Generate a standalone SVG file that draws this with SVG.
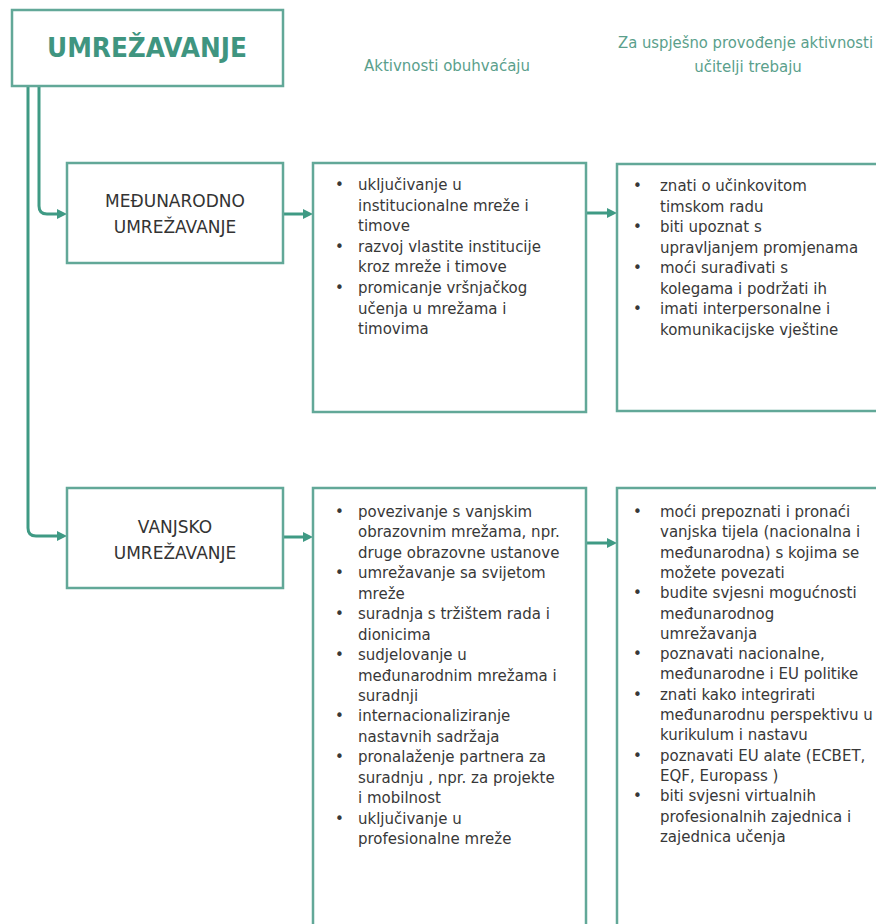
<svg xmlns="http://www.w3.org/2000/svg" width="876" height="924" viewBox="0 0 876 924">
<style>
.box{fill:#ffffff;stroke:#62a898;stroke-width:2.5}
.conn{fill:none;stroke:#3f9a84;stroke-width:3}
.title{font-family:"DejaVu Sans",sans-serif;font-weight:bold;font-size:27px;fill:#3f9580}
.hdr{font-family:"DejaVu Sans",sans-serif;font-size:15px;fill:#5b9f8c;text-anchor:middle}
.lbl{font-family:"DejaVu Sans",sans-serif;font-size:17px;fill:#333333;text-anchor:middle}
.txt{font-family:"DejaVu Sans",sans-serif;font-size:15px;fill:#383838}
</style>
<defs>
<marker id="ah" viewBox="0 0 10 10" refX="2" refY="5" markerWidth="10" markerHeight="10" markerUnits="userSpaceOnUse" orient="auto">
<path d="M0,0 L10,5 L0,10 z" fill="#3f9a84"/>
</marker>
</defs>
<rect width="876" height="924" fill="#ffffff"/>

<g id="connectors">
<path class="conn" d="M39,86 V206 Q39,214 47,214 H59" marker-end="url(#ah)"/>
<path class="conn" d="M28,86 V528 Q28,536 36,536 H59" marker-end="url(#ah)"/>
<path class="conn" d="M283,214 H305" marker-end="url(#ah)"/>
<path class="conn" d="M586,213 H609" marker-end="url(#ah)"/>
<path class="conn" d="M283,537 H305" marker-end="url(#ah)"/>
<path class="conn" d="M586,543 H609" marker-end="url(#ah)"/>
</g>

<g id="umrezavanje">
<rect class="box" x="12" y="10" width="271" height="76"/>
<text class="title" x="147" y="57" text-anchor="middle" textLength="200" lengthAdjust="spacingAndGlyphs">UMREŽAVANJE</text>
</g>

<g id="header-aktivnosti">
<text class="hdr" x="447" y="71">Aktivnosti obuhvaćaju</text>
</g>

<g id="header-ucitelji">
<text class="hdr" x="618" y="48" style="text-anchor:start" textLength="255" lengthAdjust="spacingAndGlyphs">Za uspješno provođenje aktivnosti</text>
<text class="hdr" x="748" y="72">učitelji trebaju</text>
</g>

<g id="medunarodno">
<rect class="box" x="67" y="163" width="216" height="100"/>
<text class="lbl" x="175" y="207">MEĐUNARODNO</text>
<text class="lbl" x="175" y="233">UMREŽAVANJE</text>
</g>

<g id="medunarodno-aktivnosti">
<rect class="box" x="313" y="163" width="273" height="249"/>
<text class="txt">
<tspan x="335" y="190">•</tspan><tspan x="358" y="190">uključivanje u</tspan>
<tspan x="358" y="210.6">institucionalne mreže i</tspan>
<tspan x="358" y="231.2">timove</tspan>
<tspan x="335" y="251.8">•</tspan><tspan x="358" y="251.8">razvoj vlastite institucije</tspan>
<tspan x="358" y="272.4">kroz mreže i timove</tspan>
<tspan x="335" y="293">•</tspan><tspan x="358" y="293">promicanje vršnjačkog</tspan>
<tspan x="358" y="313.6">učenja u mrežama i</tspan>
<tspan x="358" y="334.2">timovima</tspan>
</text>
</g>

<g id="medunarodno-trebaju">
<rect class="box" x="617" y="164" width="290" height="247"/>
<text class="txt">
<tspan x="633" y="191">•</tspan><tspan x="660" y="191">znati o učinkovitom</tspan>
<tspan x="660" y="211.5">timskom radu</tspan>
<tspan x="633" y="232">•</tspan><tspan x="660" y="232">biti upoznat s</tspan>
<tspan x="660" y="252.5">upravljanjem promjenama</tspan>
<tspan x="633" y="273">•</tspan><tspan x="660" y="273">moći surađivati s</tspan>
<tspan x="660" y="293.5">kolegama i podržati ih</tspan>
<tspan x="633" y="314">•</tspan><tspan x="660" y="314">imati interpersonalne i</tspan>
<tspan x="660" y="334.5">komunikacijske vještine</tspan>
</text>
</g>

<g id="vanjsko">
<rect class="box" x="67" y="488" width="216" height="100"/>
<text class="lbl" x="175" y="533">VANJSKO</text>
<text class="lbl" x="175" y="559">UMREŽAVANJE</text>
</g>

<g id="vanjsko-aktivnosti">
<rect class="box" x="313" y="488" width="273" height="460"/>
<text class="txt">
<tspan x="335" y="517">•</tspan><tspan x="358" y="517">povezivanje s vanjskim</tspan>
<tspan x="358" y="537.4">obrazovnim mrežama, npr.</tspan>
<tspan x="358" y="557.9">druge obrazovne ustanove</tspan>
<tspan x="335" y="578.3">•</tspan><tspan x="358" y="578.3">umrežavanje sa svijetom</tspan>
<tspan x="358" y="598.8">mreže</tspan>
<tspan x="335" y="619.2">•</tspan><tspan x="358" y="619.2">suradnja s tržištem rada i</tspan>
<tspan x="358" y="639.6">dionicima</tspan>
<tspan x="335" y="660.1">•</tspan><tspan x="358" y="660.1">sudjelovanje u</tspan>
<tspan x="358" y="680.5">međunarodnim mrežama i</tspan>
<tspan x="358" y="701">suradnji</tspan>
<tspan x="335" y="721.4">•</tspan><tspan x="358" y="721.4">internacionaliziranje</tspan>
<tspan x="358" y="741.8">nastavnih sadržaja</tspan>
<tspan x="335" y="762.3">•</tspan><tspan x="358" y="762.3">pronalaženje partnera za</tspan>
<tspan x="358" y="782.7">suradnju , npr. za projekte</tspan>
<tspan x="358" y="803.2">i mobilnost</tspan>
<tspan x="335" y="823.6">•</tspan><tspan x="358" y="823.6">uključivanje u</tspan>
<tspan x="358" y="844">profesionalne mreže</tspan>
</text>
</g>

<g id="vanjsko-trebaju">
<rect class="box" x="617" y="488" width="290" height="460"/>
<text class="txt">
<tspan x="633" y="517">•</tspan><tspan x="660" y="517">moći prepoznati i pronaći</tspan>
<tspan x="660" y="537.3">vanjska tijela (nacionalna i</tspan>
<tspan x="660" y="557.6">međunarodna) s kojima se</tspan>
<tspan x="660" y="577.9">možete povezati</tspan>
<tspan x="633" y="598.2">•</tspan><tspan x="660" y="598.2">budite svjesni mogućnosti</tspan>
<tspan x="660" y="618.5">međunarodnog</tspan>
<tspan x="660" y="638.8">umrežavanja</tspan>
<tspan x="633" y="659.1">•</tspan><tspan x="660" y="659.1">poznavati nacionalne,</tspan>
<tspan x="660" y="679.4">međunarodne i EU politike</tspan>
<tspan x="633" y="699.7">•</tspan><tspan x="660" y="699.7">znati kako integrirati</tspan>
<tspan x="660" y="720">međunarodnu perspektivu u</tspan>
<tspan x="660" y="740.3">kurikulum i nastavu</tspan>
<tspan x="633" y="760.6">•</tspan><tspan x="660" y="760.6">poznavati EU alate (ECBET,</tspan>
<tspan x="660" y="780.9">EQF, Europass )</tspan>
<tspan x="633" y="801.2">•</tspan><tspan x="660" y="801.2">biti svjesni virtualnih</tspan>
<tspan x="660" y="821.5">profesionalnih zajednica i</tspan>
<tspan x="660" y="841.8">zajednica učenja</tspan>
</text>
</g>
</svg>
